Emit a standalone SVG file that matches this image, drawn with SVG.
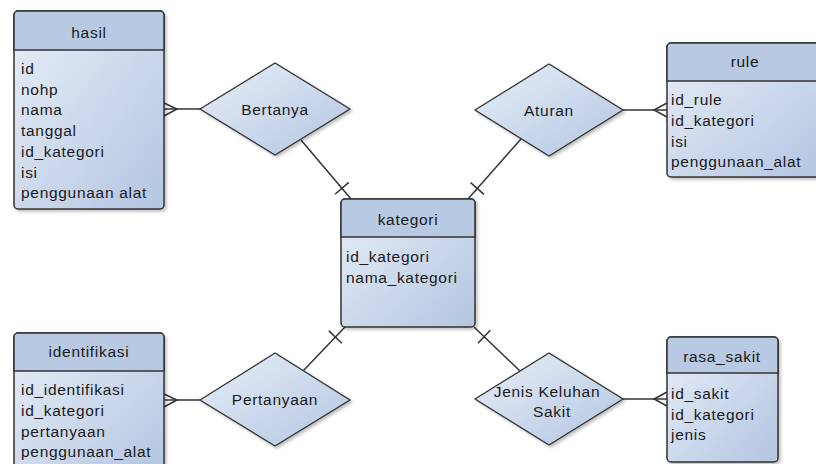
<svg xmlns="http://www.w3.org/2000/svg" width="816" height="464" viewBox="0 0 816 464">
<defs>
<linearGradient id="g" x1="0" y1="0" x2="1" y2="1">
<stop offset="0" stop-color="#e8eef8"/>
<stop offset="1" stop-color="#b3c5e1"/>
</linearGradient>
<filter id="sh" x="-10%" y="-10%" width="130%" height="130%">
<feDropShadow dx="2" dy="2" stdDeviation="1.5" flood-color="#000" flood-opacity="0.25"/>
</filter>
<style>
.box{fill:url(#g);stroke:#333;stroke-width:1.5;filter:url(#sh)}
.hdr{fill:#b8c9e3;stroke:#333;stroke-width:1.5}
.dia{fill:url(#g);stroke:#333;stroke-width:1.3;filter:url(#sh)}
text{font-family:"Liberation Sans",Arial,sans-serif;font-size:15.5px;fill:#1a1a1a;letter-spacing:0.7px}
.t{text-anchor:middle}
.c line,.c path{stroke:#333;stroke-width:1.5;fill:none}
</style>
</defs>
<rect width="816" height="464" fill="#fff"/>

<g class="c" id="connectors">
<line x1="164" y1="109" x2="200" y2="109"/>
<path d="M164,103 L177,109 L164,116"/>
<line x1="301" y1="140" x2="351" y2="199"/>
<line x1="335" y1="194.2" x2="348.8" y2="182.4"/>
<line x1="623" y1="110" x2="667" y2="110"/>
<path d="M667,103 L654,110 L667,117"/>
<line x1="521" y1="139" x2="468" y2="199"/>
<line x1="470.6" y1="182.6" x2="484" y2="194.4"/>
<line x1="164" y1="400" x2="200" y2="400"/>
<path d="M164,394 L177,400 L164,407"/>
<line x1="303" y1="371" x2="345" y2="327"/>
<line x1="328.8" y1="330.9" x2="341.8" y2="343.3"/>
<line x1="623" y1="399" x2="667" y2="399"/>
<path d="M667,392 L654,399 L667,406"/>
<line x1="520" y1="371" x2="474" y2="327"/>
<line x1="477.9" y1="343.2" x2="490.3" y2="330.2"/>
</g>

<g id="hasil">
<rect class="box" x="14" y="11" width="150" height="198" rx="4"/>
<path class="hdr" d="M14,50 V15 a4,4 0 0 1 4,-4 H160 a4,4 0 0 1 4,4 V50 Z"/>
<text class="t" x="89" y="38">hasil</text>
<text x="21" y="74">id</text>
<text x="21" y="94.7">nohp</text>
<text x="21" y="115.4">nama</text>
<text x="21" y="136.1">tanggal</text>
<text x="21" y="156.8">id_kategori</text>
<text x="21" y="177.5">isi</text>
<text x="21" y="198.2">penggunaan alat</text>
</g>

<g id="kategori">
<rect class="box" x="341" y="199" width="134" height="128" rx="4"/>
<path class="hdr" d="M341,237 V203 a4,4 0 0 1 4,-4 H471 a4,4 0 0 1 4,4 V237 Z"/>
<text class="t" x="408" y="225">kategori</text>
<text x="346" y="262">id_kategori</text>
<text x="346" y="283">nama_kategori</text>
</g>

<g id="rule">
<rect class="box" x="667" y="43" width="157" height="134" rx="4"/>
<path class="hdr" d="M667,81 V47 a4,4 0 0 1 4,-4 H820 a4,4 0 0 1 4,4 V81 Z"/>
<text class="t" x="745" y="67">rule</text>
<text x="671" y="105">id_rule</text>
<text x="671" y="126">id_kategori</text>
<text x="671" y="147">isi</text>
<text x="671" y="167">penggunaan_alat</text>
</g>

<g id="identifikasi">
<rect class="box" x="14" y="333" width="150" height="145" rx="4"/>
<path class="hdr" d="M14,371 V337 a4,4 0 0 1 4,-4 H160 a4,4 0 0 1 4,4 V371 Z"/>
<text class="t" x="89" y="357">identifikasi</text>
<text x="21" y="395">id_identifikasi</text>
<text x="21" y="416">id_kategori</text>
<text x="21" y="437">pertanyaan</text>
<text x="21" y="457">penggunaan_alat</text>
</g>

<g id="rasa_sakit">
<rect class="box" x="667" y="337" width="111" height="125" rx="4"/>
<path class="hdr" d="M667,373 V341 a4,4 0 0 1 4,-4 H774 a4,4 0 0 1 4,4 V373 Z"/>
<text class="t" x="722" y="362">rasa_sakit</text>
<text x="671" y="399">id_sakit</text>
<text x="671" y="420">id_kategori</text>
<text x="671" y="440">jenis</text>
</g>

<g id="bertanya">
<polygon class="dia" points="200,109 275,63 350,109 275,155"/>
<text class="t" x="275" y="115">Bertanya</text>
</g>

<g id="aturan">
<polygon class="dia" points="475,110 549,64 623,110 549,156"/>
<text class="t" x="549" y="116">Aturan</text>
</g>

<g id="pertanyaan">
<polygon class="dia" points="200,400 275,353 350,400 275,446"/>
<text class="t" x="275" y="405">Pertanyaan</text>
</g>

<g id="jenis_keluhan_sakit">
<polygon class="dia" points="475,399 549,353 623,399 549,445"/>
<text class="t" x="547" y="397">Jenis Keluhan</text>
<text class="t" x="552" y="417">Sakit</text>
</g>
</svg>
